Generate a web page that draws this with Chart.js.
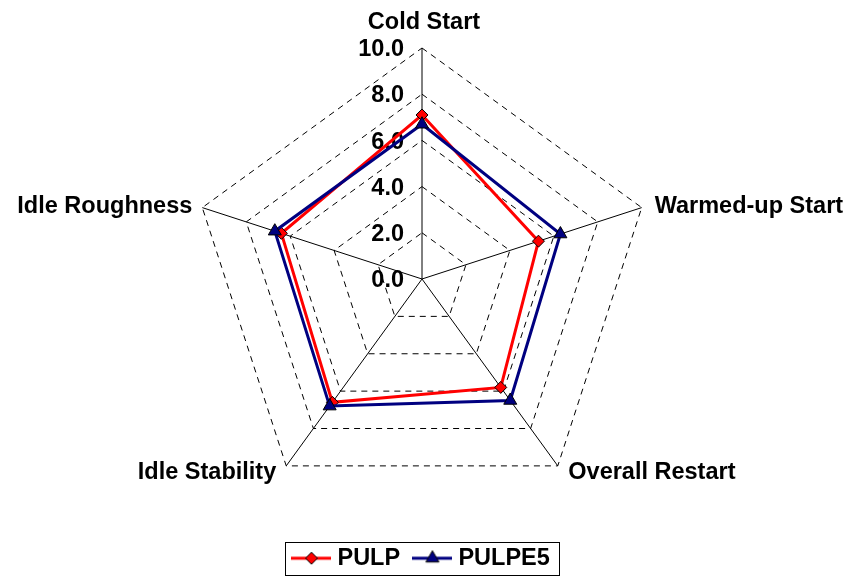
<!DOCTYPE html>
<html><head><meta charset="utf-8">
<script src="https://cdn.jsdelivr.net/npm/chart.js@4.4.0/dist/chart.umd.min.js"></script>
<style>html,body{margin:0;padding:0;background:#fff;}</style>
</head><body>
<canvas id="c" width="854" height="576"></canvas>
<script>
const categories = ['Cold Start', 'Warmed-up Start', 'Overall Restart', 'Idle Stability', 'Idle Roughness'];
const seriesNames = ['PULP', 'PULPE5'];
const pulp = [7.1, 5.3, 5.8, 6.6, 6.4];
const pulpe5 = [6.7, 6.3, 6.5, 6.8, 6.7];
const tickValues = [0, 2, 4, 6, 8, 10];
const tickLabels = ['0.0', '2.0', '4.0', '6.0', '8.0', '10.0'];

const FONT = '"Liberation Sans", Arial, sans-serif';
const FS = 23.5;
const RED = '#FF0000', NAVY = '#000080';

function markerImage(color, shape) {
  const cv = document.createElement('canvas');
  cv.width = 40; cv.height = 20;
  const c = cv.getContext('2d');
  c.strokeStyle = color; c.lineWidth = 3;
  c.beginPath(); c.moveTo(0, 10); c.lineTo(40, 10); c.stroke();
  c.fillStyle = color; c.strokeStyle = '#000'; c.lineWidth = 1;
  c.beginPath();
  if (shape === 'diamond') {
    c.moveTo(20, 4); c.lineTo(26, 10); c.lineTo(20, 16); c.lineTo(14, 10);
  } else {
    c.moveTo(20, 2.5); c.lineTo(26.5, 13.75); c.lineTo(13.5, 13.75);
  }
  c.closePath(); c.fill(); c.stroke();
  return cv;
}
const legendImgs = [markerImage(RED, 'diamond'), markerImage(NAVY, 'triangle')];

const labelPlugin = {
  id: 'customLabels',
  beforeDatasetsDraw(chart) {
    const s = chart.scales.r, ctx = chart.ctx;
    ctx.save();
    ctx.fillStyle = '#000';
    ctx.font = 'bold ' + FS + 'px ' + FONT;
    ctx.textBaseline = 'alphabetic';
    ctx.textAlign = 'right';
    tickValues.forEach((v, i) => {
      const p = s.getPointPositionForValue(0, v);
      ctx.fillText(tickLabels[i], p.x - 18, p.y + 8.2);
    });
    categories.forEach((lab, i) => {
      const p = s.getPointPosition(i, s.drawingArea);
      const dx = p.x - s.xCenter;
      let x, y;
      if (Math.abs(dx) < 1) { ctx.textAlign = 'center'; x = p.x + 2; y = p.y - 19.5; }
      else if (dx > 0) { ctx.textAlign = 'left'; x = p.x + (p.y < s.yCenter ? 13 : 10.5); }
      else { ctx.textAlign = 'right'; x = p.x - 10; }
      if (Math.abs(dx) >= 1) y = p.y < s.yCenter ? p.y + 5.7 : p.y + 13.4;
      ctx.fillText(lab, x, y);
    });
    ctx.restore();
  },
  afterDraw(chart) {
    const lg = chart.legend;
    if (!lg || !lg.legendHitBoxes || !lg.legendHitBoxes.length) return;
    const hb = lg.legendHitBoxes;
    const first = hb[0], last = hb[hb.length - 1];
    const l = Math.round(first.left - 11.75) + 0.5;
    const r = Math.round(last.left + last.width + 9) + 0.5;
    const t = Math.round(first.top - 5) + 0.5;
    const b = Math.round(first.top + first.height + 5) + 0.5;
    const ctx = chart.ctx;
    ctx.save();
    ctx.strokeStyle = '#000'; ctx.lineWidth = 1;
    ctx.strokeRect(l, t, r - l, b - t);
    ctx.restore();
  }
};

new Chart(document.getElementById('c'), {
  type: 'radar',
  data: {
    labels: categories,
    datasets: [
      { label: seriesNames[0], data: pulp, borderColor: RED, backgroundColor: RED, borderWidth: 3,
        pointStyle: 'rectRot', pointRadius: 6, pointBackgroundColor: RED, pointBorderColor: '#000',
        pointBorderWidth: 1, fill: false, tension: 0, order: 1 },
      { label: seriesNames[1], data: pulpe5, borderColor: NAVY, backgroundColor: NAVY, borderWidth: 3,
        pointStyle: 'triangle', pointRadius: 7.5, pointBackgroundColor: NAVY, pointBorderColor: '#000',
        pointBorderWidth: 1, fill: false, tension: 0, order: 0 }
    ]
  },
  options: {
    responsive: false,
    animation: false,
    devicePixelRatio: 1,
    layout: { padding: { left: 0, right: 7, top: 0, bottom: -4 } },
    plugins: {
      tooltip: { enabled: false },
      legend: {
        position: 'bottom',
        labels: {
          usePointStyle: true,
          pointStyleWidth: 28.5,
          padding: 18,
          color: '#000',
          font: { family: FONT, size: FS, weight: 'bold' },
          generateLabels(chart) {
            return chart.data.datasets.map((ds, i) => ({
              text: ds.label, fillStyle: ds.borderColor, strokeStyle: ds.borderColor,
              lineWidth: 0, pointStyle: legendImgs[i], hidden: false, datasetIndex: i, fontColor: '#000'
            }));
          }
        }
      }
    },
    scales: {
      r: {
        min: 0, max: 10,
        ticks: { stepSize: 2, display: false },
        pointLabels: { display: false },
        grid: { color: '#000', lineWidth: 1 },
        border: { dash: [6, 5] },
        angleLines: { color: '#000', lineWidth: 1 },
        afterFit(scale) {
          scale.xCenter = 422;
          scale.yCenter = 279;
          scale.drawingArea = 231;
        }
      }
    }
  },
  plugins: [labelPlugin]
});
</script>
</body></html>
